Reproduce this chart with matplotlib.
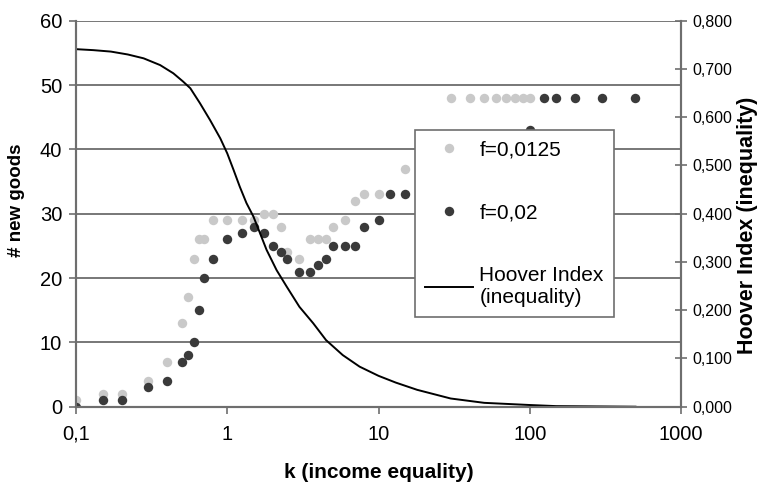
import matplotlib
matplotlib.use('Agg')
import matplotlib.pyplot as plt
from matplotlib.ticker import FixedLocator, FixedFormatter, NullLocator

plt.rcParams['font.family'] = ['Liberation Sans', 'DejaVu Sans']

# ---------------------------------------------------------
# data
# ---------------------------------------------------------

k_light = [0.1, 0.15, 0.2, 0.3, 0.4, 0.5, 0.55, 0.6, 0.65, 0.7, 0.8,
           1.0, 1.25, 1.5, 1.75, 2.0, 2.25, 2.5, 3.0, 3.5, 4.0, 4.5,
           5.0, 6.0, 7.0, 8.0, 10.0, 15.0,
           30, 40, 50, 60, 70, 80, 90, 100]
goods_light = [1, 2, 2, 4, 7, 13, 17, 23, 26, 26, 29,
               29, 29, 29, 30, 30, 28, 24, 23, 26, 26, 26,
               28, 29, 32, 33, 33, 37,
               48, 48, 48, 48, 48, 48, 48, 48]

k_dark = [0.1, 0.15, 0.2, 0.3, 0.4, 0.5, 0.55, 0.6, 0.65, 0.7, 0.8,
          1.0, 1.25, 1.5, 1.75, 2.0, 2.25, 2.5, 3.0, 3.5, 4.0, 4.5,
          5.0, 6.0, 7.0, 8.0, 10.0, 12.0, 15.0,
          100, 125, 150, 200, 300, 500]
goods_dark = [0, 1, 1, 3, 4, 7, 8, 10, 15, 20, 23,
              26, 27, 28, 27, 25, 24, 23, 21, 21, 22, 23,
              25, 25, 25, 28, 29, 33, 33,
              43, 48, 48, 48, 48, 48]

k_hoover = [0.1, 0.13, 0.17, 0.22, 0.28, 0.36, 0.44, 0.51, 0.57, 0.66,
            0.77, 0.9, 1.0, 1.1, 1.21, 1.34, 1.49, 1.65, 1.82, 2.12,
            2.47, 3.0, 3.7, 4.5, 5.8, 7.5, 10, 13, 18, 30, 50, 100,
            150, 500]
hoover = [0.741, 0.739, 0.736, 0.730, 0.722, 0.708, 0.691, 0.674, 0.660,
          0.629, 0.594, 0.556, 0.525, 0.491, 0.456, 0.422, 0.394, 0.359,
          0.325, 0.283, 0.249, 0.207, 0.173, 0.138, 0.107, 0.083, 0.064,
          0.050, 0.035, 0.017, 0.008, 0.0035, 0.0012, 0.0]

x_ticks = [0.1, 1, 10, 100, 1000]
x_ticklabels = ['0,1', '1', '10', '100', '1000']
left_ticks = [0, 10, 20, 30, 40, 50, 60]
right_ticks = [0.0, 0.1, 0.2, 0.3, 0.4, 0.5, 0.6, 0.7, 0.8]
right_ticklabels = ['0,000', '0,100', '0,200', '0,300', '0,400',
                    '0,500', '0,600', '0,700', '0,800']

# ---------------------------------------------------------
# figure
# ---------------------------------------------------------

fig = plt.figure(figsize=(7.63, 4.86), dpi=100)
ax = fig.add_axes([76 / 763, 1 - 406.7 / 486, 605 / 763, 386 / 486])
ax2 = ax.twinx()

axis_grey = '#6e6e6e'

ax.set_xscale('log')
ax.set_xlim(0.1, 1000)
ax.set_ylim(0, 60)
ax2.set_ylim(0, 0.8)

ax.grid(axis='y', color='#777777', linewidth=1.4)
ax.set_axisbelow(True)

p1, = ax.plot(k_light, goods_light, linestyle='none', marker='o',
              markersize=6.8, color='#c9c9c9', markeredgewidth=0,
              label='f=0,0125', zorder=3)
p2, = ax.plot(k_dark, goods_dark, linestyle='none', marker='o',
              markersize=6.8, color='#3a3a3a', markeredgewidth=0,
              label='f=0,02', zorder=4)

l3, = ax2.plot(k_hoover, hoover, color='black', linewidth=1.4,
               label='Hoover Index\n(inequality)')

# ---------------------------------------------------------
# axes styling
# ---------------------------------------------------------

for a in (ax, ax2):
    a.spines['top'].set_visible(False)
    for s in ('left', 'right', 'bottom'):
        a.spines[s].set_color(axis_grey)
        a.spines[s].set_linewidth(1.5)

ax.xaxis.set_major_locator(FixedLocator(x_ticks))
ax.xaxis.set_major_formatter(FixedFormatter(x_ticklabels))
ax.xaxis.set_minor_locator(NullLocator())
ax.set_yticks(left_ticks)
ax.tick_params(axis='x', direction='out', length=5, width=1.2,
               color=axis_grey, labelsize=14.5, pad=8)
ax.tick_params(axis='y', direction='out', length=5, width=1.2,
               color=axis_grey, labelsize=14.5, pad=5)

ax2.set_yticks(right_ticks)
ax2.set_yticklabels(right_ticklabels)
ax2.tick_params(axis='y', direction='inout', length=8, width=1.2,
                color=axis_grey, labelsize=11.5, pad=4)

ax.set_xlabel('k (income equality)', fontsize=15, fontweight='bold',
              labelpad=14)
ax.set_ylabel('# new goods', fontsize=13.5, fontweight='bold')
ax.yaxis.set_label_coords(-0.084, 0.535)
ax2.set_ylabel('Hoover Index (inequality)', fontsize=15.5,
               fontweight='bold')
ax2.yaxis.set_label_coords(1.092, 0.47)

# ---------------------------------------------------------
# legend
# ---------------------------------------------------------

leg = ax2.legend(handles=[p1, p2, l3], loc='upper left',
                 bbox_to_anchor=(0.56, 0.717), fontsize=15,
                 frameon=True, fancybox=False, framealpha=1,
                 edgecolor=axis_grey, labelspacing=2.1,
                 handlelength=2.3, handletextpad=0.3,
                 borderpad=0.5, borderaxespad=0)
leg.get_frame().set_linewidth(1.2)

fig.savefig('out.png', dpi=100)
